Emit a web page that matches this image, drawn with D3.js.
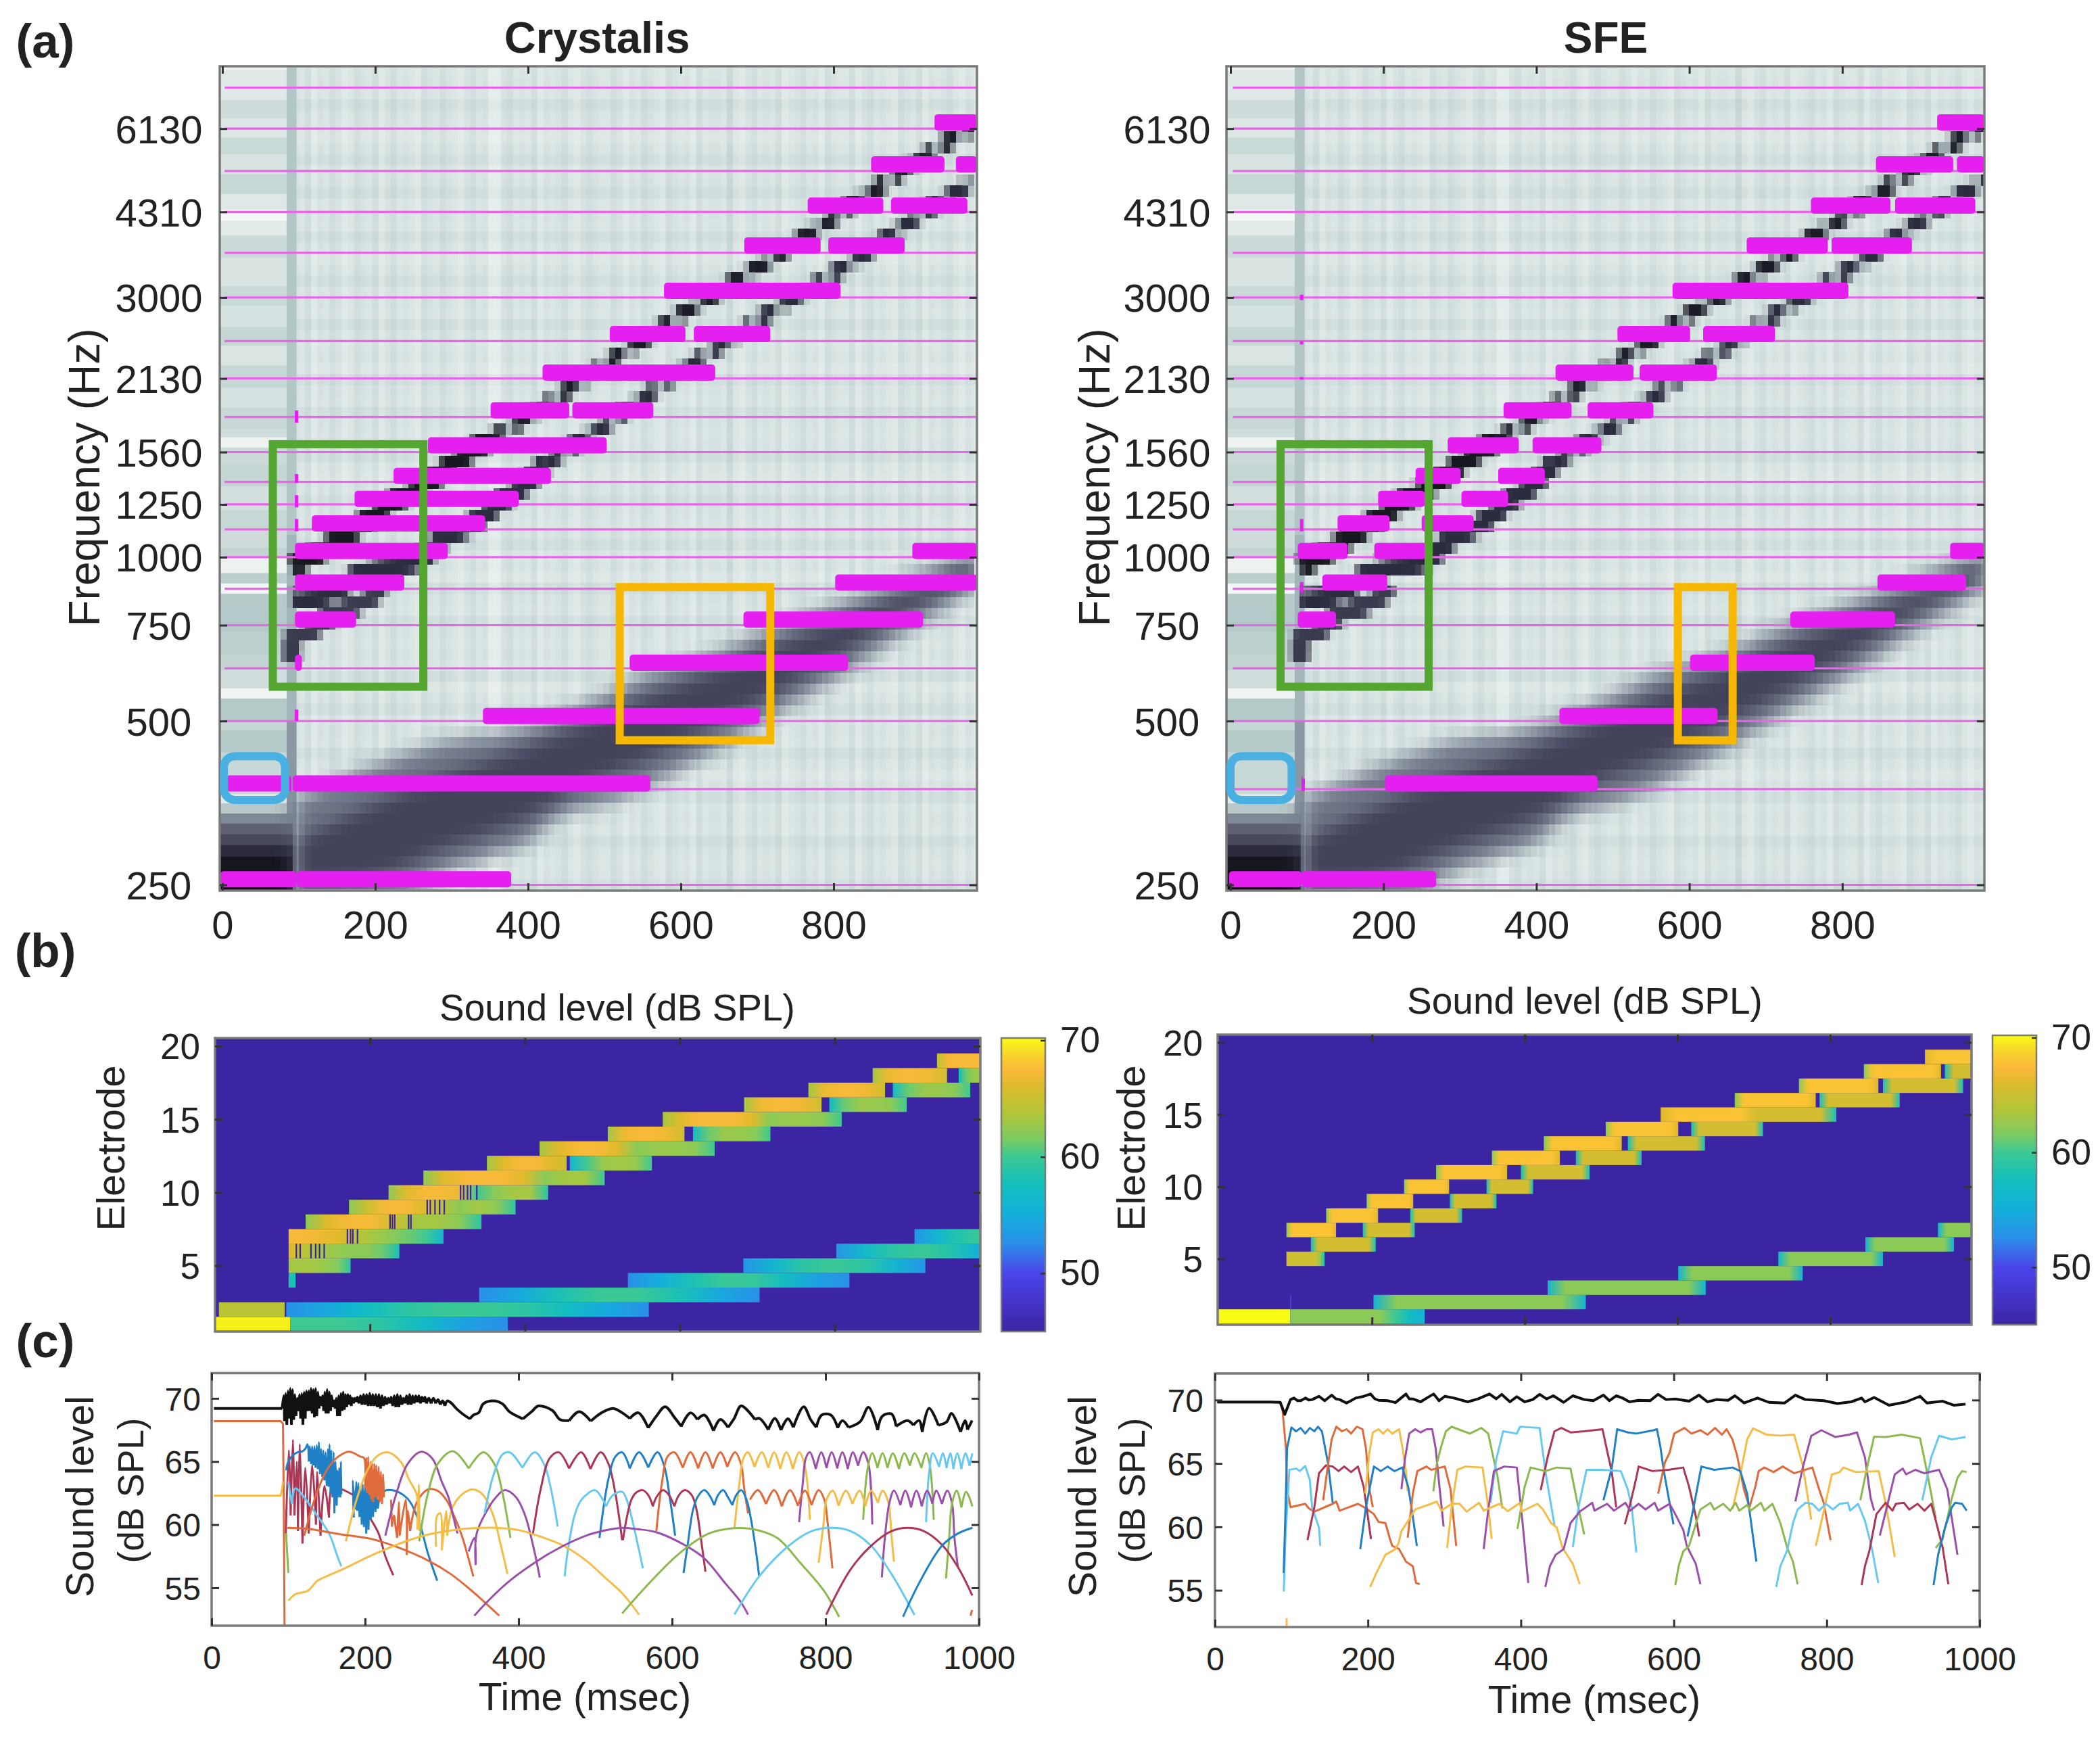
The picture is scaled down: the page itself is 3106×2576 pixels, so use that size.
<!DOCTYPE html>
<html>
<head>
<meta charset="utf-8">
<script src="https://cdn.jsdelivr.net/npm/d3@7"></script>
<style>
  html, body { margin: 0; padding: 0; background: #fff; }
  svg { display: block; }
  text { font-family: "Liberation Sans", Arial, sans-serif; fill: #222; }
</style>
</head>
<body>
<svg id="fig" width="3106" height="2576" viewBox="0 0 3106 2576"></svg>
<script>
// ---------- (a) frequency axis ----------
const freqTicks = [250, 500, 750, 1000, 1250, 1560, 2130, 3000, 4310, 6130];
const bandLinesHz = [7290, 6130, 5125, 4310, 3625, 3000, 2495, 2130, 1810, 1560, 1375, 1250, 1125, 1000, 875, 750, 625, 500, 375, 250];
const electrodeHz = [256, 384, 511, 640, 768, 898, 1027, 1154, 1280, 1410, 1605, 1862, 2184, 2570, 3087, 3740, 4425, 5270, 6295];
const timeTicksA = [0, 200, 400, 600, 800];

// background texture, one value per 8 ms column
const colTint = [0,1,-1,2,0,1,-1,0,2,1,-1,0,1,-1,2,0,-1,1,0,1,2,-1,0,1,-1,0,1,2,0,-1,
  1,0,3,3,0,-1,1,0,1,-1,2,0,1,0,-1,1,2,0,-1,0,1,1,-1,0,2,0,1,-1,0,1,
  2,-1,0,1,0,2,-1,1,0,0,1,-2,1,2,0,-1,1,0,1,-1,2,1,0,-1,1,0,2,-1,0,1,
  1,-1,2,0,-1,1,0,1,2,-1,0,1,-1,2,0,1,0,-1,1,2,0,1];
const rowTint = [1,0,1,-1,0,1,2,0,-1,1,0,-1,1,0,1,-1,0,2,0,-1,1,0,1,-1,0,1,0,2,-1,0,
  1,-1,0,1,0,-1,1,2,0,-1,0,1,0,-1,1,0,2,-1,0,1,-1,0,1,0,1,-1,2,0,-1,1,
  0,1,-1,0,2,0,-1,1,0,1,-1,0,1,0,-1];

// left strip rows (before sound onset): band edges in Hz and shade of each band
const stripEdges = [7980,7870,6925,6400,5900,5500,5050,4650,4350,4150,3900,3550,3150,2900,2650,2450,2250,2050,1880,1720,1660,1590,1480,1350,1220,1120,1040,1000,935,895,857,800,730,660,620,574,550,498,481,438,423,397,367,353,338,324,310,296,282,266,244];
const stripShades = ['#f0f4f3','#e1e9e8','#cfdcdb','#dce6e5','#c9d9d8','#d7e2e1','#c8d8d7','#dfe8e7','#f4f7f6','#e2eaea','#cbdad9','#d8e3e2','#c9d9d8','#d6e2e1','#c5d6d5','#d9e4e3','#c7d7d6','#d5e1e0','#c8d8d7','#d0dddc','#eef3f2','#ccdbda','#c4d5d4','#d4e0df','#c6d7d6','#cfdcdb','#c2d4d3','#edf2f1','#bccfce','#f2f5f5','#b6cbca','#b4caca','#bcd0cf','#c3d4d3','#d0dddc','#eff3f2','#b3cac9','#c5d6d5','#b5cbca','#c4d6d5','#c6d9d6','#c6d9d6','#e4ecea','#b8c8c8','#7f8a96','#5f6074','#484a5c','#2c2c3e','#16161f','#07070c'];
const onsetBandHz = [[7980, 1100], [1100, 500], [500, 244]];
const onsetShades = ['#b3c6c7', '#a2b5b8', '#8b98a3'];

// fundamental: outer and core edges of the dark band, [ms, Hz]
const bandOuterTop = [[92,355],[198,412],[287,454],[386,480],[471,533],[556,605],[640,660],[725,742],[810,820],[894,915],[990,1034]];
const bandOuterBot = [[92,240],[228,240],[287,264],[346,282],[405,304],[433,329],[522,362],[640,440],[725,519],[810,610],[894,730],[990,888]];
const bandCoreTop = [[92,300],[198,352],[287,395],[386,442],[471,492],[556,556],[640,615],[725,690],[810,765],[894,855],[990,980]];
const bandCoreBot = [[92,250],[198,258],[287,290],[346,310],[405,335],[471,380],[556,425],[640,490],[725,565],[810,665],[894,790],[990,930]];

// harmonic ridges, [ms, Hz]
const ridgeALow = [[91,956],[121,1012],[159,1092],[189,1168],[227,1272],[262,1354],[304,1496],[348,1640]];
const ridgeAHigh = [[348,1640],[368,1701],[453,2033],[536,2432],[620,2908],[707,3458],[791,4136],[872,4932],[956,5868],[990,6250]];
const ridgeBLow = [[91,833],[130,848],[189,947],[254,985],[289,1082],[330,1157],[366,1272],[395,1360],[424,1496]];
const ridgeBHigh = [[424,1496],[487,1701],[571,2059],[648,2432],[732,2908],[817,3433],[901,4156],[990,4970]];
const ridgeC = [[91,640],[91,705],[115,733],[147,790],[171,812],[212,877]];

// small magenta flecks at sound onset: [ms, Hz low, Hz high]
const crysOnsetFlecks = [[97,1767,1860],[97,1369,1422],[97,1235,1300],[97,1116,1175],[97,500,525],[88,372,392]];
const sfeOnsetFlecks = [[93,2967,3036],[93,2460,2493],[93,2120,2143],[93,1116,1175],[93,860,900],[95,372,392]];

// active electrode runs [electrode, start ms, end ms] and levels (dB) along each run
const crysRuns = [[1,-3,97],[1,97,378],[2,5,90],[2,92,560],[3,341,703],[4,533,819],[5,682,917],[6,802,992],[7,903,992],[8,989,992],
  [4,95,104],[5,95,175],[6,95,238],[7,95,295],[8,117,344],[9,173,388],[10,224,430],[11,269,503],[12,351,454],[12,458,564],
  [13,419,645],[14,507,606],[14,617,717],[15,578,809],[16,683,783],[16,793,893],[17,766,865],[17,875,975],[18,849,945],[18,960,992],[19,932,992]];
const crysLevels = [[69.6],[60,60,59,57,54,52.5],[64],[52.5,54.5,57,59,59.7,59.7,59,57,54.5,52.5],[52.5,54.5,58,59.7,59.7,58,54.5,52.5],[52.5,55,58,59.7,59.5,57,54,52.5],[53,56,59,59.7,59,56,53],[53,56.5,59,59.7,58.5,55],[53,56,58.5,59.7],[52],
  [58],[63,63,63,62.5,61.5,59],[66,64,63,62.5,62,62,61,58],[67,67,66.5,66,64,63,62,61,60,56],[62,66,67,67,65,63,63,62,59],[62,65,67,67,66,64,62,63,62,59],[62,66,67,67,66.5,60,62,63,63,59],[62,66,67,67,67,66,62,63,63,60],[63,66,67,67,66,65],[56,60,62.5,63,62.5,60],
  [63,66,67,67,66,62,62.5,62.5,62,60],[63,66.5,67,67,66.5,65],[57,61,62.5,62.5,62,60],[63,66,67,67,67,66,62,62.5,62.5,62,60],[63,66.5,67,67,66.5,65],[57,61,62.5,62.5,62,60],[63,66.5,67,67,66.5,65],[57,61,62.5,62.5,62,60],[63,66.5,67,67,66.5,65],[57,61,62.5,62.5],[64,67,67,67,67]];
const crysHatch = [[6,104],[6,109],[6,123],[6,129],[6,134],[6,140],[7,170],[7,174],[7,177],[7,183],[8,225],[8,228],[8,231],[8,249],[8,252],[9,273],[9,277],[9,283],[9,289],[9,295],[10,316],[10,320],[10,325],[10,329],[10,337]];

const sfeRuns = [[1,-2,93],[1,93,269],[2,93,94],[2,202,480],[3,430,637],[4,601,764],[5,732,869],[6,846,962],[7,941,990],
  [5,88,138],[6,120,205],[7,88,153],[7,188,256],[8,140,208],[8,250,318],[9,193,254],[9,302,363],[10,242,301],[10,350,411],[11,284,377],[11,395,485],
  [12,357,446],[12,467,553],[13,425,527],[13,535,636],[14,506,601],[14,618,712],[15,578,808],[16,675,781],[16,786,891],[17,759,863],[17,869,974],[18,844,945],[18,950,990],[19,924,990]];
const sfeLow = [56,62,62,62,62,62,62,62,62,56];
const sfeFirst = [62,67.7,67.7,67.7,67.7,67.7,67.7,67.7,67.7,66];
const sfeSecond = [58,65.3,65.3,65.3,65.3,65.3,65.3,65.3,65.3,58];
const sfeLevels = [[70],[62,62,62,62,62,62,62,60,57,55.5],[50],sfeLow,sfeLow,sfeLow,sfeLow,sfeLow,[56,62,62,62,62],
  [65,65,65,65,65,65,65,65,62,58],sfeSecond,sfeFirst,sfeSecond,sfeFirst,sfeSecond,sfeFirst,sfeSecond,sfeFirst,sfeSecond,sfeFirst,sfeSecond,
  sfeFirst,sfeSecond,sfeFirst,sfeSecond,sfeFirst,sfeSecond,[66,67.7,67.7,67.7,67.7,67.7,65.3,65.3,65.3,65.3,65.3,58],sfeFirst,sfeSecond,sfeFirst,sfeSecond,sfeFirst,[58,65.3,65.3,65.3],[66,67.7,67.7,67.7,67.7]];

// annotation boxes: [ms start, ms end, Hz low, Hz high]
const greenBoxCrys = [66, 263, 578, 1613];
const greenBoxSfe = [65.4, 259, 578, 1613];
const orangeBoxCrys = [520, 717, 461, 881];
const orangeBoxSfe = [585, 656.6, 461, 881];
const blueBoxCrys = [2, 82, 358, 431];
const blueBoxSfe = [0, 80, 358, 431];

// ---------- (b) colour scale ----------
const parulaDb = [45, 47.5, 50, 52.5, 55, 57.5, 60, 61.5, 63.5, 66, 67.2, 68.5, 70];
const parulaHex = ['#3b25a3', '#4433c9', '#4a45ea', '#2a8fe8', '#14afdc', '#12bfbd', '#3fc992', '#7fcb60', '#b0c63a', '#e0ba2c', '#fbb93a', '#f7d22e', '#f9fb14'];
const electrodeTicks = [5, 10, 15, 20];
const colorbarTicks = [50, 60, 70];

// ---------- (c) level traces ----------
const timeTicksC = [0, 200, 400, 600, 800, 1000];
const dbTicks = [55, 60, 65, 70];

const crysBlackStart = [[3,69.2],[92,69.2]];
const crysBlack = [[92,69.2],[94,70.2],[95,68.2],[96.5,70.4],[98,67.9],[99.5,70.6],[101,68.4],[102.5,70.8],[104,67.9],[105.5,70.7],[107,68.3],[108.5,70.3],[110,68.6],[111.5,70],[113,69],[114.5,70.3],[116,68.4],[117.5,70.4],[119,67.9],[120.5,70.5],[122,68.4],[123.5,70.6],[125,69],[126.5,70.6],[128,69],[129.5,70.8],[131,68.8],[132.5,70.7],[134,68.5],[135.5,70.8],[137,68.6],[138.5,70.5],[140,69.2],[141.5,70.1],[143,69.4],[144.5,70.2],[146,69],[147.5,70.5],[149,68.8],[150.5,70.7],[152,68.8],[153.5,70.5],[155,69],[156.5,70.2],[158,69.3],[159.5,69.8],[161,69.2],[162.5,70],[164,68.6],[165.5,70.2],[167,68.6],[168.5,70.4],[170,69],[171.5,70.5],[173,69.1],[174.5,70.3],[176,69.3],[177.5,70.3],[179,69.5],[180.5,70.2],[182,69.4],[183.5,70],[185,69.6],[186.5,70],[188,69.7],[190,70.1],[192,69.6],[194,70.2],[196,69.5],[198,70.3],[200,69.5],[202,70.3],[204,69.4],[206,70.4],[208,69.4],[210,70.3],[212,69.4],[214,70.3],[216,69.3],[218,70.3],[220,69.2],[222,70.2],[224,69.4],[226,70.1],[228,69.5],[230,70],[232,69.6],[234,70.1],[236,69.4],[238,70.2],[240,69.3],[242,70.3],[244,69.3],[246,70.2],[248,69.5],[250,70],[252,69.6],[254,70.2],[256,69.5],[258,70.3],[260,69.5],[262,70.2],[264,69.6],[266,70.2],[268,69.7],[270,70.2],[272,69.6],[274,70.1],[276,69.7],[278,70.1],[280,69.6],[283,70],[286,69.6],[289,70],[292,69.6],[295,69.9],[298,69.5],[301,69.8],[304,69.4],[307,69.8],[311.6,69.66],[320,69.13],[329,68.68],[336.6,68.38],[341,68.68],[348,68.86],[354,69.57],[367,69.81],[379,69.57],[388,68.95],[405.6,68.38],[417,68.95],[426,69.4],[444,69.04],[454,68.32],[466,68.24],[479,68.95],[494,68.2],[508,68.86],[523,69.2],[535,68.86],[545,68.41],[556,68.86],[569,67.66],[579.5,68.59],[591,69.34],[603,68.5],[612,67.79],[624,68.86],[633,68.33],[642,68.68],[654,67.43],[663,68.33],[673,67.7],[681,68.41],[690,69.4],[708,68.33],[714,68.41],[725.4,67.52],[734,68.41],[742,67.49],[751,68.38],[758,67.7],[771.5,69.34],[780.5,68.33],[788,67.7],[795,68.68],[807,68.68],[816,67.66],[822,68.24],[830,67.7],[845,68.15],[856,69.3],[868,67.49],[874,68.59],[886,68.77],[892,67.79],[907,68.24],[914.5,67.88],[922,68.24],[926,67.34],[935,69.22],[947,67.88],[958,68.15],[964,68.81],[976,67.34],[982,68.24],[985,67.52],[991,68.24]];
const crysOrangeStart = [[3,68.2],[90,68.2],[93,68],[94,62],[95,52]];
const crysYellowStart = [[3,62.3],[90,62.3],[92,62.9],[93,63.4]];
const crysOrangeLow = [[98.7,59.75],[126.6,59.66],[164.7,59.27],[208.8,58.86],[241,58.24],[282,57.16],[311.6,56.09],[341,54.66],[374.8,52.79]];
const crysYellowLow = [[100,53.98],[109,54.49],[125,54.75],[138,55.56],[153,56],[173.6,56.54],[200,57.34],[223.5,57.97],[253,58.68],[282,59.22],[311.6,59.54],[341,59.72],[370,59.75],[400,59.57],[429,59.04],[458.5,58.33],[488,57.16],[511,55.9],[535,54.57],[557,52.88]];
const crysPurpleLow = [[342.4,52.79],[358.6,53.86],[385,55.38],[423,57.08],[458.5,58.33],[488,59.13],[511,59.52],[535,59.75],[552.7,59.66],[579.5,59.4],[618,58.33],[642,57.34],[669,55.38],[689.7,53.86],[699,52.88]];
const crysGreenLow = [[535,52.97],[564.6,55],[609,57.7],[648,59.3],[680.7,59.72],[704.5,59.66],[737,58.95],[767,56.98],[797,54.84],[817.7,52.7]];
const crysCyanLow = [[681.3,52.88],[713.5,55.9],[752,58.33],[782,59.49],[808.8,59.75],[832.6,59.49],[859.4,58.33],[886,56.09],[916,52.84]];
const crysRedLow = [[801,52.88],[832.6,56.45],[859.4,58.33],[886,59.49],[907,59.75],[928,59.49],[951.7,58.41],[972.6,56.63],[991.3,54.39]];
const crysBlueLow = [[901,52.7],[922,55.38],[951.7,58.33],[972.6,59.3],[991.3,59.75]];
const crysOrangeTiny = [[989,52.79],[991,53.24]];
const crysBlueTop1 = [[97,64.3],[100,65],[106,65.5],[112,65.73],[118,65.8],[122,66],[125,66.36],[126.6,65],[128,66.2],[129.6,64.8],[131,66.2],[132.5,64.7],[134,66.2],[135.4,64.5],[137,66.3],[138.4,64.4],[139.8,66.54],[141.2,64],[142.7,66],[144.2,63.8],[145.6,65.9],[147,63.5],[148.5,65.73],[150,63.06],[151.5,66],[152.5,63],[153.6,66.36],[155,62.5],[156,65.9],[157.5,62.16],[159,65.73],[160,60.9],[161.5,65],[163,61.5],[164,64.3],[164.8,62.16],[166.2,64.5],[167.7,62.16],[168.5,65],[169,62.4]];
const crysBlueRow2 = [[185.3,60.56],[183.9,63.5],[187,61.2],[188.5,63.4],[189.7,61.09],[191.2,63.3],[192.7,60.6],[194.2,63],[195.6,60],[197,63.2],[198.5,59.8],[200,63.3],[201.5,59.3],[203,63.4],[204.4,59.6],[206,63.4],[207.4,60.38],[209,63],[210.3,60.6],[212,62.8],[213.5,61],[214.7,62.6],[216.5,61.27],[220.6,62.34],[226.4,62.7],[238,62.7],[250,62.34],[258.7,61.8],[270.5,60.2],[282,57.7],[294,55.56]];
const crysRedTop1 = [[96.6,59.3],[100.7,65.9],[103,60.73],[106,66.72],[108,60.73],[111,65],[112.5,59.5],[114.8,66.36],[118.4,58.5],[122,64.5],[126.6,59.3],[131,64.7],[136,60],[137.5,64.2],[141.9,59.13],[147,63.06],[153,60.56],[157.4,63.06],[164.8,62.88],[173.6,62.7],[188,62.16],[206,60.56],[217.6,59.3],[226.4,57.5],[236.7,56]];
const crysCyanFirst = [[100,63.4],[104.5,61.63],[109,62.88],[120.7,62.16],[135.4,60.9],[153,59.3],[164.8,57.34],[169,56.7]];
const crysGreenFirst = [[97,59.3],[100,56.18]];
const crysOrangeTop = [[120.7,59.13],[135,62.16],[150,64.3],[164.8,65.38],[179.4,65.77],[194,65.38],[198.5,65.29],[200,62.88],[201.5,65.3],[203,62.5],[204,65.38],[205.5,62.34],[207,65],[208,62],[209,64.9],[210.5,61.8],[212,64.84],[213,62.16],[214.5,64.7],[216,62],[217.6,64.6],[219,61.8],[220.6,64.2],[222,61.63],[223.5,64],[224.5,62.16]];
const crysOrangeRow2 = [[233.8,61.98],[235,59.84],[237.6,60.73],[239.7,59.84],[241.7,58.95],[244,61.8],[245,59.13],[253,61.98],[254.3,57.6],[255.8,61.09],[258.7,59.49],[267.6,61.8],[282,62.79],[294,62.7],[305.7,61.98],[314.5,60.9],[326,59.13],[341,55.9]];
const crysYellowTop = [[175,58.68],[188,61.8],[203,64.3],[214.7,65.38],[229.4,65.73],[247,64.93],[257,63.6],[267.6,62.3],[268,59.6],[270,63.2],[271,59.5]];
const crysYellowRow2 = [[292.5,58.24],[294,60.73],[298,60.9],[300,57.97],[305.7,61.09],[307,59.13],[314.5,61.45],[329,62.52],[341,62.79],[354,62.34],[367,60.73],[376,58.59],[385.6,56.09]];
const crysPurpleTop = [[226.4,59.13],[241,62.52],[255.8,64.84],[273.4,65.77],[288,65.2],[299.9,63.4],[308.7,62.16],[314.5,60.73],[320.4,59.3]];
const crysPurpleRow2 = [[335,57.88],[342.4,58.95],[344,56.8],[345.4,59.3],[358.6,61.09],[370.4,62.16],[382,62.73],[396.8,62.16],[408.5,60.73],[420,58.06],[427.6,55.82]];
const crysGreenTop = [[270.5,58.68],[282,62.52],[295,64.84],[314.5,65.82],[335,64.45],[354,65.73],[368.9,64.75],[379,62.52],[389.4,58.95]];
const crysCyanTop = [[355.7,60.9],[367.4,63.95],[379,65.56],[388.5,65.73],[405,64.5],[421,65.73],[433.5,64.75],[442,62.88],[451,59.84]];
const crysRedTop = [[418.8,59.3],[429,62.88],[440.8,65.29],[452.6,65.73],[465.8,64.45],[481.4,65.73],[493.7,64.4],[507,65.73],[517,64.84],[526,62.52],[535,58.77]];
const crysBlueTop2 = [[505.4,58.95],[517,63.6],[526,65.38],[535,65.73],[545,64.45],[557,65.73],[569,64.52],[581,65.73],[590,64.6],[597,62.16],[604,59.13]];
const crysOrangeTop2 = [[579.5,59.5],[587,63.4],[594,65.38],[603,65.73],[614,64.5],[624,65.73],[634,64.45],[643.5,65.73],[653,64.45],[663,65.73],[672,64.57],[682,65.73],[690,64.75],[694,62.88],[699,60.9]];
const crysYellowTop2 = [[681.3,59.75],[688,63.4],[692.6,65.2],[698.6,65.73],[707.5,64.57],[717,65.73],[725.4,64.48],[733,65.73],[741,64.4],[749,65.73],[757.5,64.4],[765.6,65.73],[773,64.66],[779.6,60.38]];
const crysPurpleTop2 = [[765.6,60.2],[770,63.06],[774.5,65.29],[779.6,65.73],[787.3,64.4],[794.5,65.73],[801.3,64.48],[808,65.73],[815.3,64.45],[822,65.73],[829,64.4],[835.6,65.73],[842.4,64.66],[849,65.73],[855.8,64.84],[860.9,60.02]];
const crysGreenTop2 = [[849,60.38],[855,64.48],[860.9,65.65],[867.7,64.48],[874.3,65.65],[880.8,64.48],[887.7,65.65],[895.7,64.4],[902.6,65.65],[910,64.66],[916,65.65],[925,64.48],[931,65.65],[936,64.66],[941,60.38]];
const crysCyanTop2 = [[931,60.2],[935.3,64.3],[939.8,65.65],[948,64.57],[953,65.65],[957.7,64.48],[962.7,65.65],[966.6,64.4],[971.7,65.65],[977,64.4],[982.4,65.65],[987.5,64.66],[991.3,65.65]];
const crysCyanRow2 = [[460,55.9],[464,57.88],[473,60.73],[482,61.98],[499.6,62.73],[508,62.16],[514,61.45],[523,62.34],[535,62.6],[541,61.98],[548,60.38],[556,58.24],[562,56.54]];
const crysRedRow2 = [[536,58.77],[541,60.56],[547,61.98],[553,62.52],[561.6,62.73],[569,62.34],[575,61.45],[579.5,62.16],[588.4,62.73],[596,62.34],[603,61.45],[609,62.34],[616.7,62.73],[625.6,62.34],[631.6,61.27],[637.5,58.95],[643.5,56.27]];
const crysBlueRow3 = [[615,56.18],[620,58.24],[627,61.09],[633,62.16],[642,62.73],[649.5,62.25],[655,61.54],[660,62.34],[666.4,62.73],[673,62.16],[678.6,61.54],[683.7,62.34],[690.3,62.73],[697,61.98],[703,60.38],[709,58.06],[713.5,55.9]];
const crysOrangeRow3 = [[701.6,61.98],[712,62.73],[722.4,61.63],[733,62.73],[743,61.45],[753.7,62.73],[764,61.49],[773,62.7],[782,61.54],[791,62.73],[798.4,61.98],[803,60.02],[809,56.54]];
const crysYellowRow3 = [[791,56.98],[797,59.84],[801.3,61.98],[809.4,62.7],[817,61.49],[826.6,62.7],[835,61.63],[844.5,62.7],[852,61.45],[859.4,62.7],[868.3,61.72],[874.3,62.7],[881.7,61.8],[886.2,58.95],[889.2,57.07]];
const crysPurpleRow3 = [[873.4,55.82],[877.3,58.95],[883.2,61.72],[889.2,62.7],[897.5,61.54],[904,62.7],[911.5,61.36],[918.4,62.7],[925.5,61.45],[932.4,62.7],[939.2,61.66],[944.3,62.7],[951.7,61.63],[958.6,62.7],[965,61.63],[968,58.95],[972.6,56.63]];
const crysGreenRow3 = [[957,55.74],[960.7,58.59],[965,61.72],[971,62.7],[977,61.36],[983,62.6],[987.5,62.16],[991.3,61.45]];

const sfeBlack = [[3,69.85],[73,69.85],[85.4,69.82],[91.3,68.87],[98.8,70.04],[103.3,70.16],[108,69.95],[112.3,69.95],[118.2,70.16],[123,70.0],[127.2,70.04],[136,70.3],[143.6,69.95],[152.6,70.39],[158,70.1],[163,70.04],[172,69.77],[178,69.95],[184,70.16],[193,70.27],[203.4,70.48],[209,70.1],[213.9,69.98],[225.8,69.95],[236,69.8],[249.8,70.48],[254,70.1],[258.7,70.09],[269,69.86],[278,70.2],[286,70.48],[293,69.95],[300.6,70.3],[312.5,70.16],[330.5,69.86],[344,70.09],[359,70.48],[367.8,70.1],[375,70.45],[385.7,69.86],[394.7,70.27],[405,69.86],[415.6,70.04],[424.6,70.45],[433.6,70.09],[442.5,70.34],[456,69.82],[468,70.34],[482.9,70.04],[494.8,69.95],[508,70.39],[515.8,69.95],[524.8,70.34],[533,70.16],[542,69.86],[554,69.98],[569,69.95],[579.5,70.45],[590,70.04],[602,70.09],[620,69.91],[633,70.39],[644,69.86],[656,70.04],[671,69.98],[680,70.34],[692,69.77],[709.5,70.16],[724.5,69.82],[745,69.77],[759,70.39],[772,70.04],[796,69.95],[814,69.73],[832,69.86],[845.6,70.16],[850,69.86],[862,70.21],[881.4,69.59],[904,69.86],[922,70.3],[931,69.77],[951.7,69.91],[966.6,69.59],[981.6,69.68]];
const sfeOrange = [[3,69.82],[85,69.82],[88.3,69.23],[92.8,66.2],[94.3,62.98],[98.8,61.55],[118,61.82],[122.7,61.46],[130,61.2],[154,61.82],[158.6,62],[163,61.28],[175,61.55],[187,61.82],[197.4,61.46],[207.9,61],[213.9,60.39],[222.9,60.3],[228.8,59.05],[231.8,58.5],[240.8,58.25],[249.8,57.26],[258.7,56.9],[263,55.57],[267.7,55.48]];
const sfeYellowSpur = [[93.7,52.8],[93.7,52]];
const sfeBlueT = [[89.8,56.37],[92,60.84],[94.3,66.2],[100,67.84],[106,67.54],[112,67.8],[118,67.36],[124,67.8],[130,67.54],[134.7,67.9],[139.8,67.54],[143.6,66.37],[148,64.95],[154,61.9]];
const sfeOrangeT = [[141.5,62.1],[148,64.95],[152.6,66.9],[158.6,67.9],[166,67.54],[172,67.7],[178,67.36],[185.5,67.9],[193,67.7],[197.4,66.2],[201.9,62.98],[206.4,61.55]];
const sfeYellowT = [[196.5,62.62],[201.9,65.84],[206.4,67.45],[213.9,67.7],[219.9,67.36],[225.8,67.7],[231.8,67.36],[240.8,67.7],[245.3,66.2],[249.8,64.4],[252,62.8]];
const sfePurpleT = [[243.8,62.98],[248.3,65.3],[254,67.36],[261.7,67.7],[269,67.45],[276.6,67.7],[284,67.7],[288.6,66.2],[293,63.5],[299,60.03]];
const sfeGreenT = [[285.6,62.8],[290,64.95],[296,66.37],[302,67.54],[309.5,67.9],[321.5,67.62],[333.4,67.36],[348.4,67.8],[357.4,67.36],[363.3,65.66],[369.3,64.05],[375.9,61.46]];
const sfeCyanT = [[360.3,61.9],[367.8,65.3],[376.8,67.54],[394.7,67.36],[399,67.9],[424.6,67.8],[432,64.4],[444,60.12]];
const sfeRedT = [[426,62.9],[435,65.5],[444,67.54],[453,67.8],[465,67.45],[483,67.54],[506.8,67.7],[512.8,66],[518.8,64.4],[524.7,61.55]];
const sfeBlueT2 = [[508,62.1],[518.8,64.6],[526,67.7],[540,67.45],[551,67.36],[573.6,67.62],[578,67.7],[582.5,66.3],[587,64.4],[594.5,61.9],[599.6,60.2]];
const sfeOrangeT2 = [[579.5,62.62],[588.5,65.1],[594.5,65.84],[600.5,67.36],[614,67.8],[623,67.36],[635,67.62],[644,67.27],[654,67.8],[663,67.27],[669,67.7],[676.7,66.9],[682.7,65.66],[691.6,62.98],[699,61.55]];
const sfeYellowT2 = [[676.7,61.37],[685.6,63.7],[696,66.9],[703.6,67.77],[721.5,67.27],[739.4,67.2],[757.4,67.27],[769,64.76],[779.8,60.57]];
const sfePurpleT2 = [[759,62],[769,64.76],[779.8,67.18],[793,67.62],[811,67.09],[829,67.27],[839.6,67.45],[850,65.48],[857.5,62.26],[862,61.28]];
const sfeGreenT2 = [[844,62.1],[853,64.76],[862,67.12],[877,67.09],[898,67.27],[922,67],[931,64.4],[942.7,60.66]];
const sfeCyanT2 = [[925,62.1],[936.7,65.5],[947,67.18],[963.6,66.9],[981.6,67.09]];
const sfeCyanR1 = [[90,54.9],[92,59],[97.3,64.5],[106.3,64.6],[110.8,64.4],[118,64.8],[124,63.7],[127,61.55],[136,59.94],[137.7,58.5]];
const sfeRedR1 = [[121,58.96],[130,61.55],[136,64.23],[145,64.85],[154,64.76],[161.6,64.4],[169,64.76],[178,64.32],[187,64.76],[194.5,63.16],[204,59.05]];
const sfeBlueR2 = [[190,58.25],[197.4,61.55],[207.9,64.76],[216.9,64.4],[225.8,64.76],[234.8,64.4],[245,64.68],[252.7,63.16],[258.7,60.84],[264,58.5]];
const sfeOrangeR2 = [[252,59.14],[258.7,62.62],[264.7,64.4],[276.6,64.76],[282.6,64.5],[300.6,64.76],[308,62.98],[315.5,58.5]];
const sfeYellowR2 = [[303.6,58.34],[309.5,61.55],[317,64.5],[327.5,64.76],[349.9,64.68],[357.4,61.55],[361.8,59.05]];
const sfePurpleR2 = [[351.4,58.25],[357.4,61.37],[364.8,64.4],[378.3,64.76],[394.7,64.68],[402,60.48],[409.7,55.57]];
const sfeGreenR2 = [[395.6,59.85],[405,63.16],[412.6,64.68],[432,64.4],[447,64.68],[465,64.6],[473.9,61.9],[482.9,59.4]];
const sfeCyanR2 = [[468,58.4],[475.4,61.55],[485.9,64.5],[506.8,64.5],[530.7,64.4],[539.7,62.98],[545,61.55],[551,57.98]];
const sfeRedR3 = [[536,60.2],[542,61.55],[551,63.87],[554,64.76],[572,64.4],[593,64.5],[612.4,64.68],[620,63.16],[628.8,60.84],[633.3,59.24]];
const sfeBlueR3 = [[618,59.24],[626,61.55],[636,64.76],[652.8,64.5],[676.7,64.68],[687,64.4],[696,62.62],[708,57.26]];
const sfeOrangeR3 = [[699,61.55],[706.6,63.16],[711,64.4],[718.5,64.68],[730.5,64.32],[742.4,64.76],[757.4,64.23],[781.3,64.68],[790,62.98],[796,61.9],[805,58.96]];
const sfeYellowR3 = [[785.8,58.5],[796,61.2],[806.7,64.14],[817,64.32],[821.6,64.68],[838,64.32],[868,64.4],[877,61.9],[889,57.62]];
const sfePurpleR3 = [[869.5,59.32],[880,61.9],[889,64.14],[899.4,64.6],[903.8,64.14],[915.8,64.5],[927.8,64.23],[947,64.5],[957.6,62.98],[971,57.8]];
const sfeGreenR3 = [[942.7,58.34],[951.7,59.05],[963.6,62.26],[971,63.87],[977,64.4],[983,64.32]];
const sfeYellowM = [[203,55.26],[211,56.37],[217,57.08],[222.9,57.8],[236,58.25],[240,58.7],[243.8,59.67],[252.7,60.48],[261.7,61.37],[282.6,61.82],[290,62],[296,61.28],[309.5,61.82],[320,61.82],[329,61.2],[345.4,61.9],[351.4,61.28],[372,61.82],[382.8,61.23],[399,61.9],[400.7,61.2],[421.6,61.82],[429,61.37],[439.5,60.3],[447,59.94],[454.5,58.34],[468,57.08],[477,55.48]];
const sfePurpleM = [[432,55.26],[438,56.9],[445.5,57.8],[456,58.25],[465,60.3],[477,61.2],[493.4,61.9],[496.3,61.28],[512.8,61.82],[521.8,61.28],[536.7,61.9],[543,61.28],[554,61.82],[563,61.37],[575,61.9],[579.5,61.28],[594.5,61.82],[602,61],[612.4,59.76],[617,58.5],[628.8,57.08],[634.8,55.48]];
const sfeGreenM = [[602,55.4],[606.4,56.9],[612.4,58.07],[620,58.5],[632,60.84],[634.8,61.37],[648,61.9],[652.8,61.37],[664.7,61.82],[673.7,61.28],[681,61.9],[685.6,61.28],[696,61.73],[700.6,61.28],[714,61.9],[718.5,61.28],[729,61.82],[739.4,60.3],[748.4,58.34],[755.9,57.26],[761.9,55.48]];
const sfeCyanM = [[734,55.26],[739.4,56.9],[748.4,58.16],[755.9,60.3],[761.9,61.37],[772.3,61.9],[781.3,61.82],[790,61.28],[799,61.82],[808,61.37],[817,61.82],[827.6,61.9],[830.6,61.28],[841,61.82],[850,60.48],[859,58.34],[867.4,55.57]];
const sfeRedM = [[845.6,55.4],[850,56.9],[856,58.16],[865,61],[877,61.9],[886,61.28],[890.4,61.82],[900.9,61.9],[908,61.37],[918.8,61.82],[927.8,61.28],[936.7,61.82],[942.7,60.48],[951.7,58.34],[959,55.48]];
const sfeBlueM = [[939.7,55.4],[945.7,57.8],[954.6,59.94],[963.6,61.55],[968,61.9],[977,61.82],[983,61.28]];

const lineColor = { blue: '#1f80c6', orange: '#df6a3c', yellow: '#f3bd48', purple: '#9a4fa9', green: '#8cb94e', cyan: '#68c9f0', red: '#ac3655' };
const crysTraces = [['red',crysRedTop1],['cyan',crysCyanFirst],['green',crysGreenFirst],['blue',crysBlueTop1],['blue',crysBlueRow2],['orange',crysOrangeTop],['orange',crysOrangeRow2],['yellow',crysYellowTop],['yellow',crysYellowRow2],['purple',crysPurpleTop],['purple',crysPurpleRow2],['green',crysGreenTop],['cyan',crysCyanTop],['red',crysRedTop],['blue',crysBlueTop2],['orange',crysOrangeTop2],['yellow',crysYellowTop2],['purple',crysPurpleTop2],['green',crysGreenTop2],['cyan',crysCyanTop2],['cyan',crysCyanRow2],['red',crysRedRow2],['blue',crysBlueRow3],['orange',crysOrangeRow3],['yellow',crysYellowRow3],['purple',crysPurpleRow3],['green',crysGreenRow3],['orange',crysOrangeLow],['yellow',crysYellowLow],['purple',crysPurpleLow],['green',crysGreenLow],['cyan',crysCyanLow],['red',crysRedLow],['blue',crysBlueLow],['orange',crysOrangeTiny],['orange',crysOrangeStart,'straight'],['yellow',crysYellowStart,'straight']];
const sfeTraces = [['yellow',sfeYellowSpur],['orange',sfeOrange],['cyan',sfeCyanR1],['red',sfeRedR1],['blue',sfeBlueT],['orange',sfeOrangeT],['yellow',sfeYellowT],['purple',sfePurpleT],['green',sfeGreenT],['cyan',sfeCyanT],['red',sfeRedT],['blue',sfeBlueT2],['orange',sfeOrangeT2],['yellow',sfeYellowT2],['purple',sfePurpleT2],['green',sfeGreenT2],['cyan',sfeCyanT2],['blue',sfeBlueR2],['orange',sfeOrangeR2],['yellow',sfeYellowR2],['purple',sfePurpleR2],['green',sfeGreenR2],['cyan',sfeCyanR2],['red',sfeRedR3],['blue',sfeBlueR3],['orange',sfeOrangeR3],['yellow',sfeYellowR3],['purple',sfePurpleR3],['green',sfeGreenR3],['yellow',sfeYellowM],['purple',sfePurpleM],['green',sfeGreenM],['cyan',sfeCyanM],['red',sfeRedM],['blue',sfeBlueM]];

// ---------- drawing ----------
const svg = d3.select('#fig');
const defs = svg.append('defs');

// blur then sample on the spectrogram's cell grid so the dark ridges stay blocky
function addCellFilter(id, blur, box) {
  const f = defs.append('filter').attr('id', id)
    .attr('filterUnits', 'userSpaceOnUse')
    .attr('x', box.x0).attr('y', box.y0).attr('width', box.x1 - box.x0).attr('height', box.y1 - box.y0)
    .attr('color-interpolation-filters', 'sRGB');
  f.append('feGaussianBlur').attr('in', 'SourceGraphic').attr('stdDeviation', blur).attr('result', 'soft');
  f.append('feFlood').attr('x', box.x0 + 4).attr('y', box.y0 + 8).attr('width', 1).attr('height', 1).attr('flood-color', '#000');
  f.append('feComposite').attr('x', box.x0).attr('y', box.y0).attr('width', 9).attr('height', 16);
  f.append('feTile').attr('x', box.x0).attr('y', box.y0).attr('width', box.x1 - box.x0).attr('height', box.y1 - box.y0).attr('result', 'grid');
  f.append('feComposite').attr('in', 'soft').attr('in2', 'grid').attr('operator', 'in');
  f.append('feMorphology').attr('operator', 'dilate').attr('radius', '4 8');
}

const dbColor = d3.scaleLinear().domain(parulaDb).range(parulaHex).clamp(true);

function frameAxes(g, x, y, box, o) {
  const styleAxis = sel => {
    sel.select('.domain').remove();
    sel.selectAll('.tick line').attr('stroke', '#333').attr('stroke-width', 3);
    sel.selectAll('text').style('font-size', o.fontSize + 'px').style('font-family', '"Liberation Sans", Arial, sans-serif').attr('fill', '#222');
  };
  g.append('rect').attr('x', box.x0).attr('y', box.y0).attr('width', box.x1 - box.x0).attr('height', box.y1 - box.y0)
    .attr('fill', 'none').attr('stroke', '#7a7a7a').attr('stroke-width', 3.5);
  const bottom = g.append('g').attr('transform', `translate(0,${box.y1})`)
    .call(d3.axisBottom(x).tickValues(o.xTicks).tickSize(-o.tick).tickPadding(o.xPad).tickFormat(o.xLabels ? d3.format('d') : ''));
  styleAxis(bottom);
  const top = g.append('g').attr('transform', `translate(0,${box.y0})`)
    .call(d3.axisTop(x).tickValues(o.xTicks).tickSize(-o.tick).tickFormat(''));
  styleAxis(top);
  const left = g.append('g').attr('transform', `translate(${box.x0},0)`)
    .call(d3.axisLeft(y).tickValues(o.yTicks).tickSize(-o.tick).tickFormat(d3.format('d')));
  styleAxis(left);
  left.selectAll('text').attr('x', o.yLabelX).attr('text-anchor', o.yAnchor).attr('dy', '0.36em');
  const right = g.append('g').attr('transform', `translate(${box.x1},0)`)
    .call(d3.axisRight(y).tickValues(o.yTicks).tickSize(-o.tick).tickFormat(''));
  styleAxis(right);
}

function vLabel(g, txt, cx, cy, size) {
  g.append('text').attr('transform', `translate(${cx},${cy}) rotate(-90)`)
    .attr('text-anchor', 'middle').attr('dy', '0.36em').style('font-size', size + 'px').text(txt);
}
function hLabel(g, txt, cx, base, size, weight) {
  g.append('text').attr('x', cx).attr('y', base).attr('text-anchor', 'middle')
    .style('font-size', size + 'px').style('font-weight', weight || 'normal').text(txt);
}

function drawSpectrogram(p) {
  const box = p.box;
  const x = d3.scaleLinear().domain(p.tDomain).range([box.x0, box.x1]);
  const y = d3.scaleLog().domain([244, 7980]).range([box.y1, box.y0]);
  const g = svg.append('g');
  const clipId = 'clip' + p.id;
  defs.append('clipPath').attr('id', clipId).append('rect')
    .attr('x', box.x0).attr('y', box.y0).attr('width', box.x1 - box.x0).attr('height', box.y1 - box.y0);
  addCellFilter('wide' + p.id, '14 12', box);
  addCellFilter('narrow' + p.id, '2.5 2.5', box);
  const art = g.append('g').attr('clip-path', `url(#${clipId})`);

  art.append('rect').attr('x', box.x0).attr('y', box.y0).attr('width', box.x1 - box.x0).attr('height', box.y1 - box.y0).attr('fill', '#d5e2e1');

  // column and row mottling
  const colStart = 92, colStep = 8;
  art.selectAll('.col').data(colTint).join('rect')
    .attr('x', (d, i) => x(colStart + i * colStep)).attr('width', x(colStep) - x(0) + 0.5)
    .attr('y', box.y0).attr('height', box.y1 - box.y0)
    .attr('fill', d => d > 0 ? '#ffffff' : '#7f9f9f').attr('fill-opacity', d => d > 0 ? d * 0.13 : -d * 0.07);
  const rowH = (box.y1 - box.y0) / rowTint.length;
  art.selectAll('.row').data(rowTint).join('rect')
    .attr('x', x(colStart)).attr('width', box.x1 - x(colStart))
    .attr('y', (d, i) => box.y0 + i * rowH).attr('height', rowH + 0.5)
    .attr('fill', d => d > 0 ? '#ffffff' : '#7f9f9f').attr('fill-opacity', d => d > 0 ? d * 0.07 : -d * 0.06);

  // pre-onset strip and the onset column
  art.selectAll('.onset').data(onsetBandHz).join('rect')
    .attr('x', x(84)).attr('width', x(97) - x(84))
    .attr('y', d => y(d[0])).attr('height', d => y(d[1]) - y(d[0]))
    .attr('fill', (d, i) => onsetShades[i]);
  art.selectAll('.strip').data(stripShades).join('rect')
    .attr('x', box.x0)
    .attr('width', (d, i) => x(stripEdges[i] < 345 ? 92 : 84) - box.x0)
    .attr('y', (d, i) => y(stripEdges[i])).attr('height', (d, i) => y(stripEdges[i + 1]) - y(stripEdges[i]) + 0.5)
    .attr('fill', d => d);

  // fundamental band
  const bandArea = (top, bot) => {
    const area = d3.line().x(d => x(d[0])).y(d => y(d[1])).curve(d3.curveMonotoneX);
    return area(top) + 'L' + area(bot.slice().reverse()).slice(1) + 'Z';
  };
  const wide = art.append('g').attr('filter', `url(#wide${p.id})`);
  wide.append('path').attr('d', bandArea(bandOuterTop, bandOuterBot)).attr('fill', '#6e7587');
  wide.append('path').attr('d', bandArea(bandCoreTop, bandCoreBot)).attr('fill', '#42425a');

  // harmonic ridges
  const ridgeLine = d3.line().x(d => x(d[0])).y(d => y(d[1])).curve(d3.curveMonotoneX);
  const narrow = art.append('g').attr('filter', `url(#narrow${p.id})`);
  [[ridgeC, 26, '#3b3b50'], [ridgeBLow, 27, '#2c2c40'], [ridgeALow, 27, '#17171f']].forEach(r => {
    narrow.append('path').attr('d', ridgeLine(r[0])).attr('fill', 'none').attr('stroke', r[2]).attr('stroke-width', r[1]).attr('stroke-linecap', 'butt');
  });
  [[ridgeBHigh, '#2b2b3e'], [ridgeAHigh, '#1c1c28']].forEach(r => {
    narrow.append('path').attr('d', ridgeLine(r[0])).attr('fill', 'none').attr('stroke', '#8f9ca4').attr('stroke-opacity', 0.6).attr('stroke-width', 24);
    narrow.append('path').attr('d', ridgeLine(r[0])).attr('fill', 'none').attr('stroke', r[1]).attr('stroke-width', 20).attr('stroke-dasharray', '28 14');
  });

  // band lines and active electrode bars
  art.selectAll('.band').data(bandLinesHz).join('line')
    .attr('x1', x(3)).attr('x2', box.x1).attr('y1', d => y(d)).attr('y2', d => y(d))
    .attr('stroke', '#e964e9').attr('stroke-width', 3.2);
  const xc = x.copy().clamp(true);
  art.selectAll('.bar').data(p.runs).join('rect')
    .attr('x', d => xc(d[1])).attr('width', d => xc(d[2]) - xc(d[1]))
    .attr('y', d => y(electrodeHz[d[0] - 1]) - 12).attr('height', 24).attr('rx', 5)
    .attr('fill', '#e51ff0');
  art.selectAll('.fleck').data(p.flecks).join('rect')
    .attr('x', d => x(d[0]) - 2.5).attr('width', 5)
    .attr('y', d => y(d[2])).attr('height', d => y(d[1]) - y(d[2]))
    .attr('fill', '#e51ff0');

  frameAxes(g, x, y, box, { xTicks: timeTicksA, yTicks: freqTicks, tick: 11, xPad: 30, xLabels: true, fontSize: 58, yLabelX: p.yLabelX, yAnchor: 'middle' });

  // annotation boxes
  const drawBox = (b, color, rx) => g.append('rect')
    .attr('x', x(b[0])).attr('width', x(b[1]) - x(b[0]))
    .attr('y', y(b[3])).attr('height', y(b[2]) - y(b[3])).attr('rx', rx)
    .attr('fill', 'none').attr('stroke', color).attr('stroke-width', 12);
  drawBox(p.green, '#54a630', 0);
  drawBox(p.orange, '#f6b800', 0);
  drawBox(p.blue, '#4ab0e2', 16);
}

function drawElectrodes(p) {
  const box = p.box;
  const x = d3.scaleLinear().domain(p.tDomain).range([box.x0, box.x1]);
  const y = d3.scaleLinear().domain(p.eDomain).range([box.y1, box.y0]);
  const g = svg.append('g');
  g.append('rect').attr('x', box.x0).attr('y', box.y0).attr('width', box.x1 - box.x0).attr('height', box.y1 - box.y0).attr('fill', dbColor(45));
  const xc = x.copy().clamp(true);
  p.runs.forEach((r, i) => {
    const id = `run${p.id}${i}`;
    const lv = p.levels[i];
    const grad = defs.append('linearGradient').attr('id', id);
    const stops = lv.length === 1 ? [lv[0], lv[0]] : lv;
    stops.forEach((v, k) => grad.append('stop').attr('offset', k / (stops.length - 1)).attr('stop-color', dbColor(v)));
    g.append('rect').attr('x', xc(r[1])).attr('width', Math.max(xc(r[2]) - xc(r[1]), 1.5))
      .attr('y', y(r[0] + 0.5)).attr('height', y(r[0] - 0.5) - y(r[0] + 0.5))
      .attr('fill', `url(#${id})`);
  });
  if (p.hatch) {
    g.selectAll('.hatch').data(p.hatch).join('rect')
      .attr('x', d => x(d[1])).attr('width', 2.2)
      .attr('y', d => y(d[0] + 0.5)).attr('height', d => y(d[0] - 0.5) - y(d[0] + 0.5))
      .attr('fill', dbColor(45));
  }
  frameAxes(g, x, y, box, { xTicks: timeTicksA.slice(1), yTicks: electrodeTicks, tick: 11, xPad: 10, xLabels: false, fontSize: 53, yLabelX: -22, yAnchor: 'end' });

  // colorbar
  const cb = p.colorbar;
  const gid = 'cbar' + p.id;
  const grad = defs.append('linearGradient').attr('id', gid).attr('x1', 0).attr('x2', 0).attr('y1', 1).attr('y2', 0);
  parulaDb.forEach(v => grad.append('stop').attr('offset', (v - 45) / 25).attr('stop-color', dbColor(v)));
  const yc = d3.scaleLinear().domain([45, 70.2]).range([cb.y1, cb.y0]);
  g.append('rect').attr('x', cb.x0).attr('y', cb.y0).attr('width', cb.x1 - cb.x0).attr('height', cb.y1 - cb.y0)
    .attr('fill', `url(#${gid})`).attr('stroke', '#7a7a7a').attr('stroke-width', 2.5);
  const ax = g.append('g').attr('transform', `translate(${cb.x1},0)`)
    .call(d3.axisRight(yc).tickValues(colorbarTicks).tickSize(-7).tickPadding(22).tickFormat(d3.format('d')));
  ax.select('.domain').remove();
  ax.selectAll('.tick line').attr('stroke', '#333').attr('stroke-width', 2.5);
  ax.selectAll('text').style('font-size', '53px').style('font-family', '"Liberation Sans", Arial, sans-serif').attr('fill', '#222');
}

// scallops have sharp valleys and round tops: smooth each hump on its own
function splitAtMinima(pts) {
  const pieces = [];
  let cur = [pts[0]];
  for (let i = 1; i < pts.length - 1; i++) {
    cur.push(pts[i]);
    if (pts[i][1] < pts[i - 1][1] && pts[i][1] < pts[i + 1][1]) {
      pieces.push(cur);
      cur = [pts[i]];
    }
  }
  cur.push(pts[pts.length - 1]);
  pieces.push(cur);
  return pieces;
}

function drawTraces(p) {
  const box = p.box;
  const x = d3.scaleLinear().domain([0, 1000]).range([box.x0, box.x1]);
  const y = d3.scaleLinear().domain(p.dbDomain).range([box.y1, box.y0]);
  const g = svg.append('g');
  const straight = d3.line().x(d => x(d[0])).y(d => y(d[1]));
  const round = d3.line().x(d => x(d[0])).y(d => y(d[1])).curve(d3.curveCatmullRom.alpha(0.5));
  const pathOf = (pts, mode) => mode === 'straight' || !p.humps ? straight(pts) : splitAtMinima(pts).map(round).join('');
  p.traces.forEach(tr => {
    g.append('path').attr('d', pathOf(tr[1], tr[2])).attr('fill', 'none')
      .attr('stroke', lineColor[tr[0]]).attr('stroke-width', 3).attr('stroke-linejoin', 'round');
  });
  (p.blacks).forEach(b => {
    g.append('path').attr('d', pathOf(b[0], b[1])).attr('fill', 'none').attr('stroke', '#111').attr('stroke-width', 4).attr('stroke-linejoin', 'round');
  });
  frameAxes(g, x, y, box, { xTicks: timeTicksC, yTicks: dbTicks, tick: 11, xPad: 30, xLabels: true, fontSize: 48, yLabelX: p.yLabelX, yAnchor: 'end' });
}

drawSpectrogram({ id: 'a1', box: { x0: 325, x1: 1445, y0: 98, y1: 1317 }, tDomain: [-3.5, 987.6], runs: crysRuns, flecks: crysOnsetFlecks,
  green: greenBoxCrys, orange: orangeBoxCrys, blue: blueBoxCrys, yLabelX: -90 });
drawSpectrogram({ id: 'a2', box: { x0: 1814, x1: 2935, y0: 98, y1: 1317 }, tDomain: [-5.3, 985.8], runs: sfeRuns, flecks: sfeOnsetFlecks,
  green: greenBoxSfe, orange: orangeBoxSfe, blue: blueBoxSfe, yLabelX: -88 });

drawElectrodes({ id: 'b1', box: { x0: 318, x1: 1450, y0: 1535, y1: 1969 }, tDomain: [0, 988], eDomain: [0.5, 20.55], runs: crysRuns, levels: crysLevels, hatch: crysHatch,
  colorbar: { x0: 1481, x1: 1546, y0: 1535, y1: 1969 } });
drawElectrodes({ id: 'b2', box: { x0: 1801, x1: 2916, y0: 1530, y1: 1959 }, tDomain: [-2, 985], eDomain: [0.43, 20.54], runs: sfeRuns, levels: sfeLevels,
  colorbar: { x0: 2947, x1: 3012, y0: 1531, y1: 1959 } });

drawTraces({ box: { x0: 313, x1: 1448, y0: 2030.5, y1: 2404 }, dbDomain: [52, 72], traces: crysTraces, blacks: [[crysBlackStart, 'straight'], [crysBlack]], humps: true, yLabelX: -16 });
drawTraces({ box: { x0: 1797, x1: 2928, y0: 2031, y1: 2406 }, dbDomain: [52.1, 72.1], traces: sfeTraces, blacks: [[sfeBlack, 'straight']], humps: false, yLabelX: -17 });

const lab = svg.append('g');
hLabel(lab, '(a)', 67, 85, 71, 'bold');
hLabel(lab, '(b)', 67, 1430, 71, 'bold');
hLabel(lab, '(c)', 67, 2007, 71, 'bold');
hLabel(lab, 'Crystalis', 883, 78, 65, 'bold');
hLabel(lab, 'SFE', 2375, 78, 64, 'bold');
vLabel(lab, 'Frequency (Hz)', 124, 706, 64);
vLabel(lab, 'Frequency (Hz)', 1618, 706, 64);
hLabel(lab, 'Sound level (dB SPL)', 913, 1509, 55);
hLabel(lab, 'Sound level (dB SPL)', 2344, 1499, 55);
vLabel(lab, 'Electrode', 163, 1698, 58);
vLabel(lab, 'Electrode', 1672, 1698, 58);
vLabel(lab, 'Sound level', 117, 2213, 57);
vLabel(lab, '(dB SPL)', 193, 2204, 53);
vLabel(lab, 'Sound level', 1600, 2213, 57);
vLabel(lab, '(dB SPL)', 1674, 2204, 53);
hLabel(lab, 'Time (msec)', 865, 2529, 57);
hLabel(lab, 'Time (msec)', 2358, 2533, 57);
</script>
</body>
</html>
